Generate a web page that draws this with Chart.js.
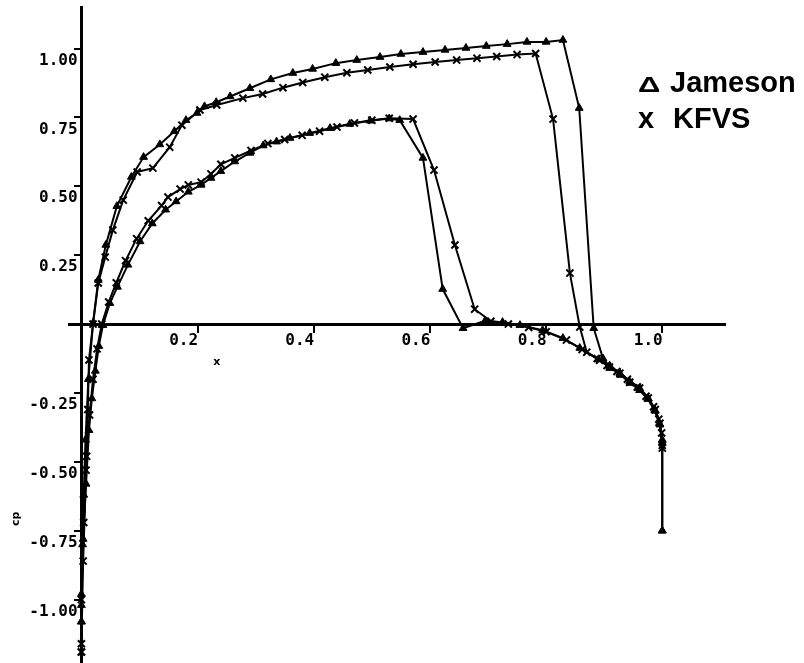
<!DOCTYPE html>
<html>
<head>
<meta charset="utf-8">
<script src="https://cdn.jsdelivr.net/npm/chart.js@4.4.1/dist/chart.umd.min.js"></script>
<style>
  html, body { margin: 0; padding: 0; background: #fff; overflow: hidden; }
</style>
</head>
<body>
<canvas id="cp" width="804" height="663"></canvas>
<script>
// Pressure distribution along the chord, two solvers, both surfaces.
// Each surface runs from the stagnation point to the trailing edge.

// Jameson scheme, suction-peak surface
const jamesonUpperX = [0.000, 0.000, 0.002, 0.004, 0.007, 0.012, 0.020, 0.029, 0.042, 0.061, 0.086, 0.107, 0.135, 0.160, 0.180, 0.199, 0.212, 0.232, 0.256, 0.290, 0.326, 0.364, 0.398, 0.438, 0.474, 0.514, 0.550, 0.588, 0.626, 0.662, 0.697, 0.733, 0.767, 0.800, 0.829, 0.857, 0.882, 0.898, 0.912, 0.928, 0.945, 0.961, 0.975, 0.987, 0.995, 1.000, 1.000];
const jamesonUpperY = [-1.08, -1.02, -0.80, -0.62, -0.42, -0.20, 0.004, 0.160, 0.287, 0.428, 0.534, 0.606, 0.652, 0.700, 0.740, 0.766, 0.790, 0.805, 0.826, 0.856, 0.888, 0.911, 0.926, 0.947, 0.958, 0.969, 0.980, 0.987, 0.995, 1.002, 1.009, 1.016, 1.024, 1.024, 1.031, 0.784, -0.015, -0.125, -0.160, -0.185, -0.214, -0.240, -0.272, -0.312, -0.360, -0.420, -0.750];

// Jameson scheme, other surface
const jamesonLowerX = [0.000, 0.000, 0.003, 0.008, 0.013, 0.018, 0.024, 0.030, 0.037, 0.049, 0.062, 0.080, 0.101, 0.122, 0.145, 0.163, 0.184, 0.206, 0.223, 0.240, 0.264, 0.290, 0.313, 0.336, 0.359, 0.393, 0.428, 0.462, 0.497, 0.530, 0.548, 0.588, 0.622, 0.657, 0.695, 0.725, 0.755, 0.794, 0.829, 0.858, 0.890, 0.909, 0.927, 0.944, 0.961, 0.976, 0.988, 0.996, 1.000, 1.000];
const jamesonLowerY = [-1.08, -0.98, -0.78, -0.58, -0.385, -0.27, -0.17, -0.08, -0.004, 0.076, 0.135, 0.215, 0.300, 0.365, 0.415, 0.445, 0.480, 0.505, 0.530, 0.555, 0.590, 0.621, 0.648, 0.662, 0.675, 0.693, 0.711, 0.726, 0.738, 0.746, 0.740, 0.603, 0.127, -0.015, 0.012, 0.007, -0.004, -0.022, -0.051, -0.087, -0.128, -0.152, -0.178, -0.208, -0.233, -0.270, -0.315, -0.365, -0.430, -0.750];

// KFVS scheme, suction-peak surface
const kfvsUpperX = [0.000, 0.000, 0.003, 0.008, 0.011, 0.013, 0.020, 0.029, 0.041, 0.054, 0.072, 0.096, 0.123, 0.152, 0.173, 0.204, 0.233, 0.278, 0.312, 0.347, 0.381, 0.419, 0.457, 0.493, 0.531, 0.571, 0.609, 0.646, 0.681, 0.715, 0.750, 0.782, 0.812, 0.841, 0.858, 0.870, 0.892, 0.909, 0.927, 0.944, 0.961, 0.976, 0.988, 0.996, 1.000];
const kfvsUpperY = [-1.19, -1.16, -0.86, -0.53, -0.31, -0.13, 0.000, 0.149, 0.243, 0.341, 0.450, 0.552, 0.566, 0.642, 0.722, 0.777, 0.795, 0.820, 0.835, 0.858, 0.877, 0.896, 0.912, 0.922, 0.933, 0.943, 0.951, 0.958, 0.965, 0.971, 0.978, 0.982, 0.744, 0.185, -0.011, -0.102, -0.131, -0.156, -0.178, -0.211, -0.232, -0.268, -0.310, -0.360, -0.450];

// KFVS scheme, other surface
const kfvsLowerX = [0.000, 0.000, 0.004, 0.009, 0.014, 0.020, 0.027, 0.035, 0.047, 0.060, 0.076, 0.095, 0.115, 0.138, 0.149, 0.170, 0.184, 0.206, 0.223, 0.240, 0.264, 0.292, 0.321, 0.350, 0.380, 0.410, 0.440, 0.470, 0.500, 0.530, 0.571, 0.607, 0.643, 0.677, 0.705, 0.735, 0.770, 0.800, 0.835, 0.862, 0.888, 0.905, 0.922, 0.940, 0.957, 0.972, 0.985, 0.994, 0.999, 1.000];
const kfvsLowerY = [-1.19, -1.00, -0.72, -0.48, -0.33, -0.20, -0.09, 0.000, 0.080, 0.150, 0.230, 0.310, 0.375, 0.430, 0.461, 0.490, 0.505, 0.515, 0.545, 0.580, 0.603, 0.630, 0.655, 0.670, 0.685, 0.700, 0.715, 0.730, 0.740, 0.747, 0.744, 0.559, 0.287, 0.054, 0.010, 0.000, -0.012, -0.028, -0.058, -0.092, -0.125, -0.150, -0.172, -0.200, -0.228, -0.262, -0.300, -0.345, -0.395, -0.440];

// Axis ticks
const xTickValues = [0.2, 0.4, 0.6, 0.8, 1.0];
const xTickLabels = ['0.2', '0.4', '0.6', '0.8', '1.0'];
const yTickValues = [1.0, 0.75, 0.5, 0.25, -0.25, -0.5, -0.75, -1.0];
const yTickLabels = ['1.00', '0.75', '0.50', '0.25', '-0.25', '-0.50', '-0.75', '-1.00'];

// Text
const xAxisName = 'x';
const yAxisName = 'cp';
const seriesNames = ['Jameson', 'KFVS'];
const seriesSymbols = ['\u0394', 'x'];

const toPoints = (xs, ys) => xs.map((v, i) => ({ x: v, y: ys[i] }));

const jamesonStyle = {
  showLine: true, borderColor: '#000', borderWidth: 2, backgroundColor: '#000',
  pointStyle: 'triangle', pointRadius: 4.5, pointHoverRadius: 4.5,
  pointBackgroundColor: '#000', pointBorderColor: '#000', pointBorderWidth: 1
};
const kfvsStyle = {
  showLine: true, borderColor: '#000', borderWidth: 2, backgroundColor: '#000',
  pointStyle: 'crossRot', pointRadius: 5, pointHoverRadius: 5,
  pointBorderColor: '#000', pointBorderWidth: 2
};

const noPad = s => { s.paddingLeft = 0; s.paddingRight = 0; s.paddingTop = 0; s.paddingBottom = 0; };
const tickFont = { family: '"DejaVu Sans Mono", monospace', weight: 'bold', size: 16 };

// Axis names and the key
const textPlugin = {
  id: 'cpText',
  afterDraw(chart) {
    const { ctx, scales: { x, y } } = chart;
    ctx.save();
    ctx.fillStyle = '#000';
    ctx.font = 'bold 11px "DejaVu Sans", sans-serif';
    ctx.textAlign = 'center';
    ctx.textBaseline = 'middle';
    ctx.fillText(xAxisName, x.getPixelForValue(0.233), y.getPixelForValue(-0.138));

    ctx.save();
    ctx.translate(16, y.getPixelForValue(-0.707));
    ctx.rotate(-Math.PI / 2);
    ctx.fillText(yAxisName, 0, 0);
    ctx.restore();

    ctx.textAlign = 'left';
    ctx.textBaseline = 'alphabetic';
    const left = 638;
    const baselines = [92, 128];
    // wide, low delta as in the key lettering
    ctx.save();
    ctx.translate(left, baselines[0]);
    ctx.scale(1.15, 0.8);
    ctx.font = 'bold 27px "Liberation Sans", Arial, sans-serif';
    ctx.fillText(seriesSymbols[0], 0, 0);
    ctx.restore();
    ctx.font = 'bold 29px "Liberation Sans", Arial, sans-serif';
    ctx.fillText(seriesSymbols[1], left, baselines[1]);
    ctx.fillText(seriesNames[0], 670, baselines[0]);
    ctx.fillText(seriesNames[1], 673, baselines[1]);
    ctx.restore();
  }
};

new Chart(document.getElementById('cp'), {
  type: 'scatter',
  data: {
    datasets: [
      { label: seriesNames[0], data: toPoints(jamesonUpperX, jamesonUpperY), ...jamesonStyle },
      { label: seriesNames[0], data: toPoints(jamesonLowerX, jamesonLowerY), ...jamesonStyle },
      { label: seriesNames[1], data: toPoints(kfvsUpperX, kfvsUpperY), ...kfvsStyle },
      { label: seriesNames[1], data: toPoints(kfvsLowerX, kfvsLowerY), ...kfvsStyle }
    ]
  },
  options: {
    responsive: false,
    animation: false,
    events: [],
    layout: { autoPadding: false, padding: { left: 69.8, right: 79, top: 7.2, bottom: 0 } },
    plugins: { legend: { display: false }, tooltip: { enabled: false } },
    elements: { line: { tension: 0 } },
    scales: {
      x: {
        type: 'linear', min: -0.02, max: 1.108,
        position: { y: 0 },
        border: { display: true, color: '#000', width: 3 },
        grid: { display: true, drawOnChartArea: false, drawTicks: true, tickLength: 7, color: '#000', lineWidth: 2 },
        ticks: {
          color: '#000', font: tickFont, padding: 0, labelOffset: -14,
          autoSkip: false, maxRotation: 0, minRotation: 0,
          callback: (v, i) => xTickLabels[i]
        },
        afterBuildTicks: s => { s.ticks = xTickValues.map(v => ({ value: v })); },
        afterFit: noPad
      },
      y: {
        type: 'linear', min: -1.23, max: 1.15,
        position: { x: 0 },
        border: { display: true, color: '#000', width: 3 },
        grid: { display: true, drawOnChartArea: false, drawTicks: true, tickLength: 6, color: '#000', lineWidth: 2 },
        ticks: { display: false },
        afterBuildTicks: s => { s.ticks = yTickValues.map(v => ({ value: v })); },
        afterFit: noPad
      },
      yLabels: {
        type: 'linear', axis: 'y', min: -1.23, max: 1.15,
        position: { x: -0.0067 },
        border: { display: false },
        grid: { display: false },
        ticks: {
          color: '#000', font: tickFont, padding: 0, labelOffset: 12,
          autoSkip: false, callback: (v, i) => yTickLabels[i]
        },
        afterBuildTicks: s => { s.ticks = yTickValues.map(v => ({ value: v })); },
        afterFit: noPad
      }
    }
  },
  plugins: [textPlugin]
});
</script>
</body>
</html>
